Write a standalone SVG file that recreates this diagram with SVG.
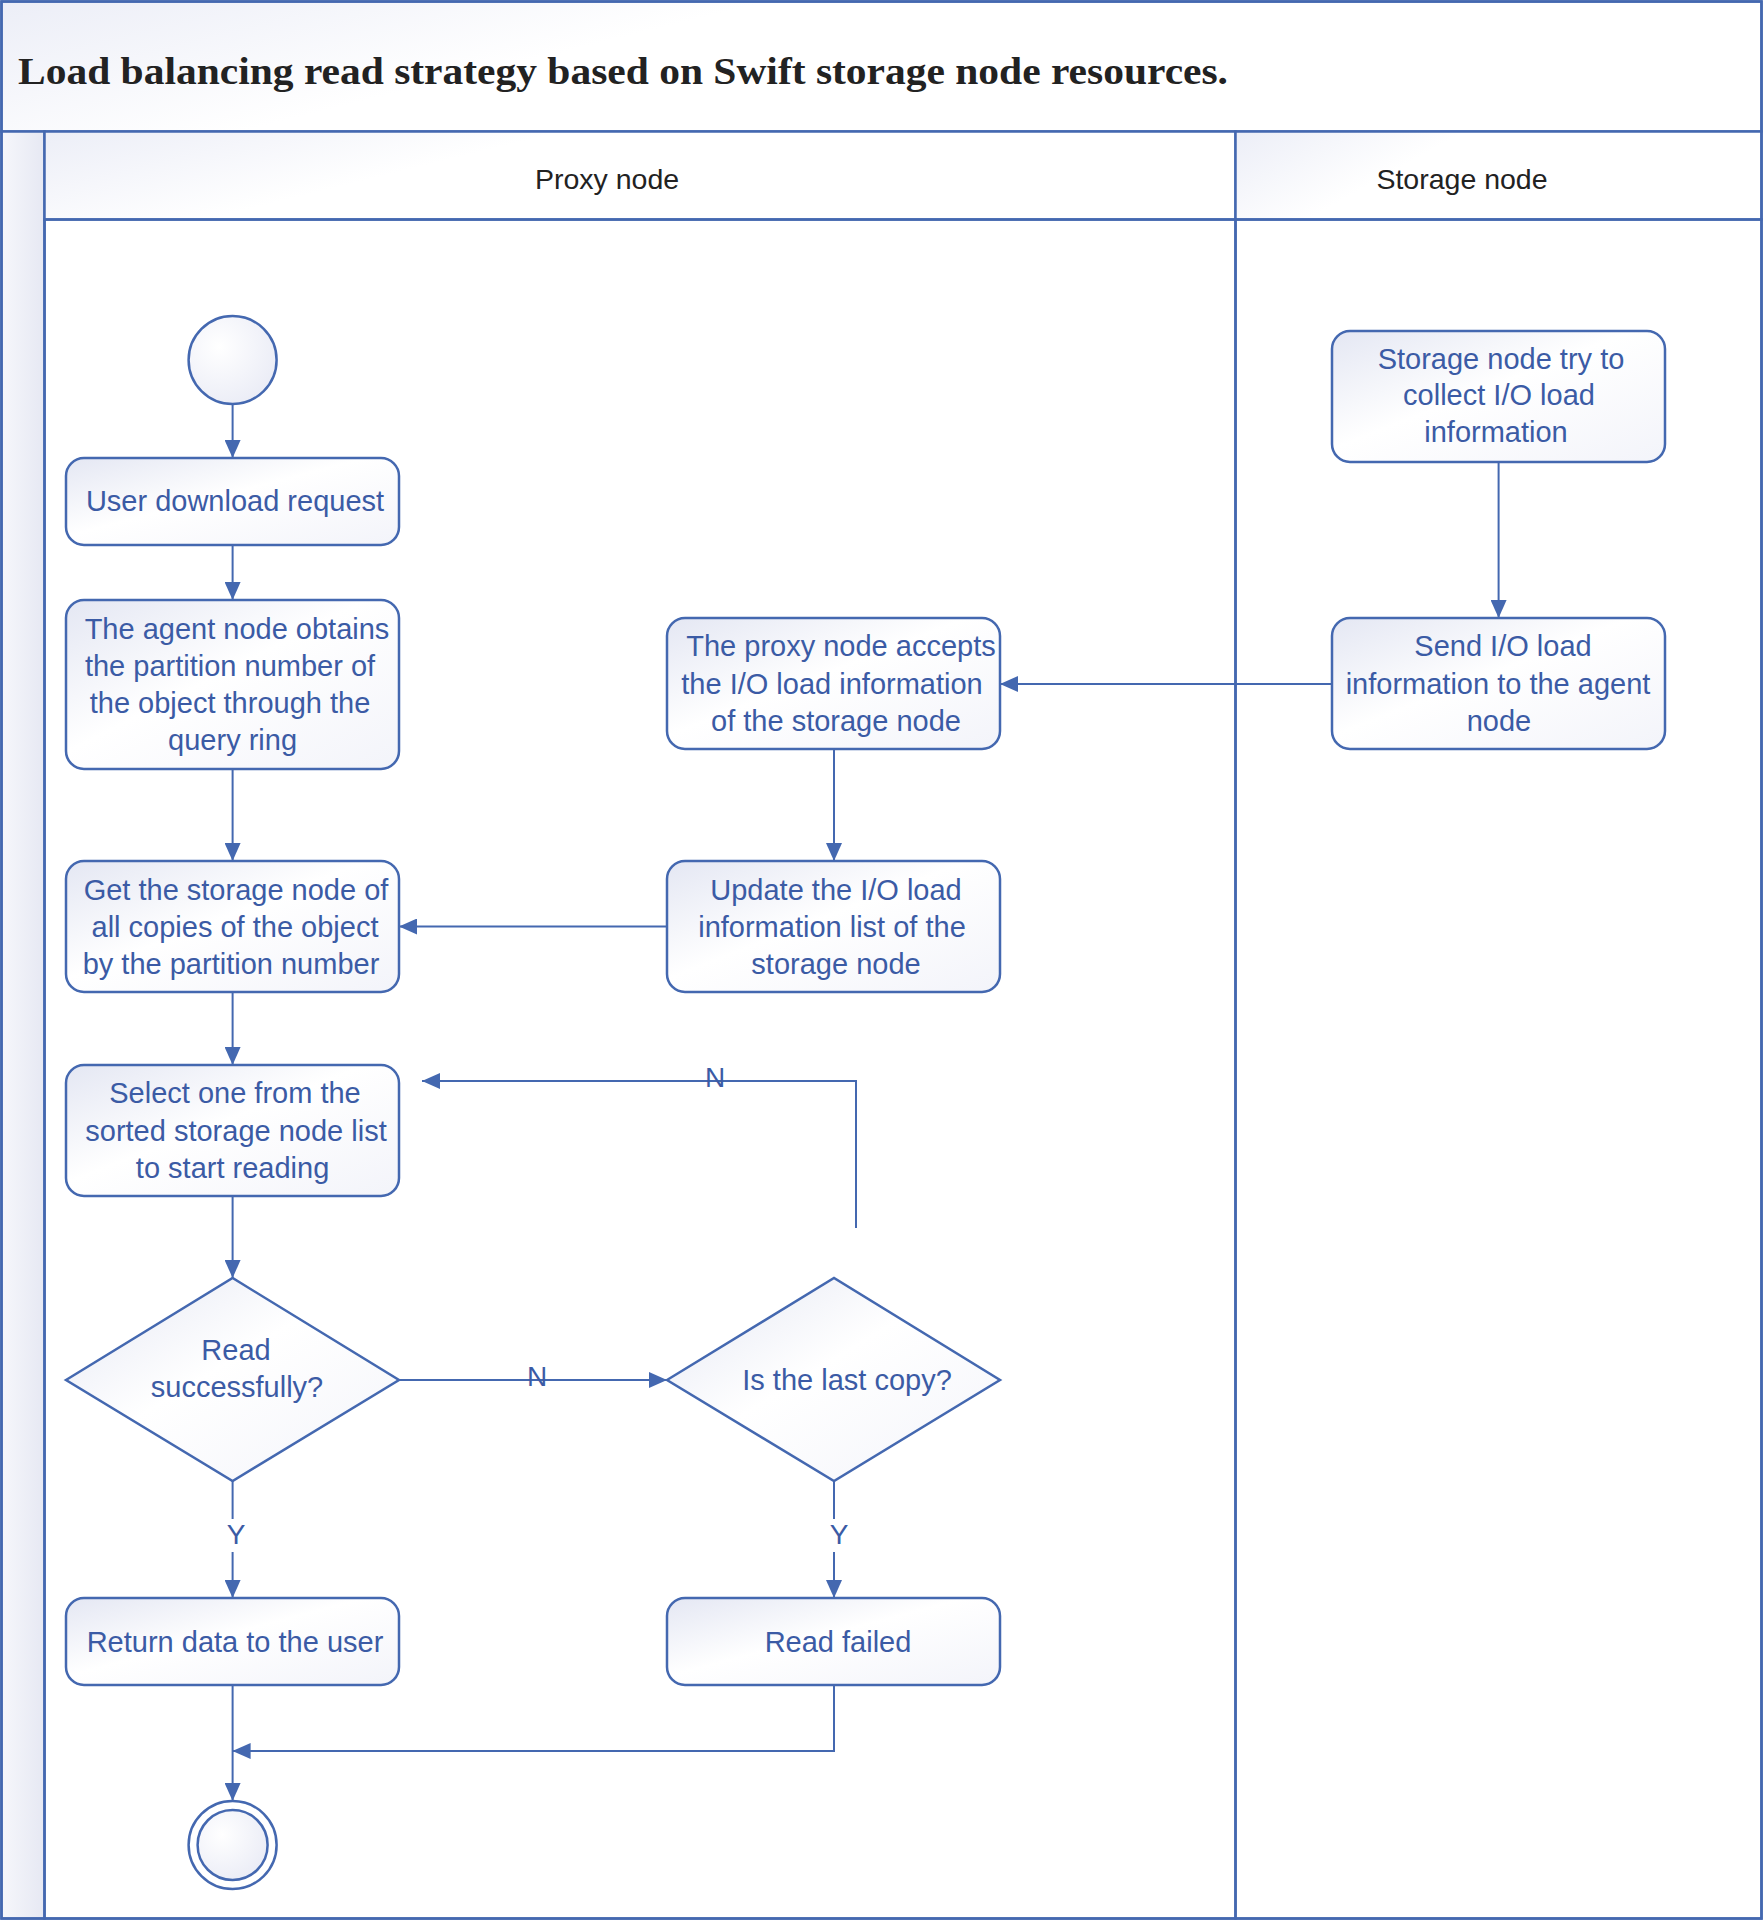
<svg xmlns="http://www.w3.org/2000/svg" width="1763" height="1920" viewBox="0 0 1763 1920">
<defs>
<linearGradient id="ng" x1="0" y1="0" x2="1" y2="1">
<stop offset="0" stop-color="#e4e7f3"/>
<stop offset="0.45" stop-color="#ffffff"/>
<stop offset="1" stop-color="#f3f4fa"/>
</linearGradient>
<linearGradient id="hg" x1="0" y1="0" x2="1" y2="0.3">
<stop offset="0" stop-color="#eceef7"/>
<stop offset="0.4" stop-color="#ffffff"/>
<stop offset="1" stop-color="#ffffff"/>
</linearGradient>
<linearGradient id="sg" x1="0" y1="0" x2="1" y2="0">
<stop offset="0" stop-color="#f6f7fb"/>
<stop offset="1" stop-color="#e6e8f3"/>
</linearGradient>
<radialGradient id="cg" cx="0.35" cy="0.35" r="0.8">
<stop offset="0" stop-color="#ffffff"/>
<stop offset="1" stop-color="#e8eaf5"/>
</radialGradient>
<marker id="arr" viewBox="0 0 18 16" refX="18" refY="8" markerWidth="18" markerHeight="16" orient="auto" markerUnits="userSpaceOnUse">
<path d="M0,0 L18,8 L0,16 z" fill="#4468b0"/>
</marker>
</defs>
<style>
.frame{fill:none;stroke:#4468b0;stroke-width:2.5}
.box{fill:url(#ng);stroke:#4468b0;stroke-width:2.5}
.conn{fill:none;stroke:#4468b0;stroke-width:2}
.t{font-family:"Liberation Sans",Arial,sans-serif;font-size:29px;fill:#3b5ba5;text-anchor:middle}
.lbl{font-family:"Liberation Sans",Arial,sans-serif;font-size:28px;fill:#3b5ba5;text-anchor:middle}
.hd{font-family:"Liberation Sans",Arial,sans-serif;font-size:28.5px;fill:#222222;text-anchor:middle}
.title{font-family:"Liberation Serif","Times New Roman",serif;font-size:38px;font-weight:bold;fill:#222222}
</style>
<rect x="0" y="0" width="1763" height="1920" fill="#ffffff"/>
<g id="pool">
<rect x="1.5" y="1.5" width="1760" height="130" fill="url(#hg)" stroke="#4468b0" stroke-width="2.5"/>
<text class="title" x="18" y="84" textLength="1210" lengthAdjust="spacingAndGlyphs">Load balancing read strategy based on Swift storage node resources.</text>
<rect x="1.5" y="131.5" width="43" height="1787" fill="url(#sg)" stroke="#4468b0" stroke-width="2.5"/>
<rect x="44.5" y="131.5" width="1191" height="88" fill="url(#hg)" stroke="#4468b0" stroke-width="2.5"/>
<rect x="1235.5" y="131.5" width="526" height="88" fill="url(#hg)" stroke="#4468b0" stroke-width="2.5"/>
<text class="hd" x="607" y="189">Proxy node</text>
<text class="hd" x="1462" y="189">Storage node</text>
<rect x="44.5" y="219.5" width="1191" height="1699" class="frame"/>
<rect x="1235.5" y="219.5" width="526" height="1699" class="frame"/>
<rect x="1.5" y="1.5" width="1760" height="1917" class="frame"/>
</g>
<g id="connectors">
<line class="conn" x1="232.6" y1="404" x2="232.6" y2="458" marker-end="url(#arr)"/>
<line class="conn" x1="232.6" y1="545" x2="232.6" y2="600" marker-end="url(#arr)"/>
<line class="conn" x1="232.6" y1="769" x2="232.6" y2="861" marker-end="url(#arr)"/>
<line class="conn" x1="232.6" y1="992" x2="232.6" y2="1065" marker-end="url(#arr)"/>
<line class="conn" x1="232.6" y1="1196" x2="232.6" y2="1278" marker-end="url(#arr)"/>
<line class="conn" x1="232.6" y1="1481" x2="232.6" y2="1519"/>
<line class="conn" x1="232.6" y1="1552" x2="232.6" y2="1598" marker-end="url(#arr)"/>
<text class="lbl" x="236" y="1544">Y</text>
<line class="conn" x1="232.6" y1="1685" x2="232.6" y2="1801" marker-end="url(#arr)"/>
<polyline class="conn" points="834,1685 834,1751 232.6,1751" marker-end="url(#arr)"/>
<line class="conn" x1="399" y1="1380" x2="667" y2="1380" marker-end="url(#arr)"/>
<text class="lbl" x="537" y="1386">N</text>
<line class="conn" x1="834" y1="1481" x2="834" y2="1519"/>
<line class="conn" x1="834" y1="1552" x2="834" y2="1598" marker-end="url(#arr)"/>
<text class="lbl" x="839" y="1544">Y</text>
<polyline class="conn" points="856,1228 856,1081 422,1081" marker-end="url(#arr)"/>
<text class="lbl" x="715" y="1087">N</text>
<line class="conn" x1="1498.6" y1="462" x2="1498.6" y2="618" marker-end="url(#arr)"/>
<line class="conn" x1="1332" y1="684" x2="1000" y2="684" marker-end="url(#arr)"/>
<line class="conn" x1="834" y1="749" x2="834" y2="861" marker-end="url(#arr)"/>
<line class="conn" x1="667" y1="926.5" x2="399" y2="926.5" marker-end="url(#arr)"/>
</g>
<g id="start"><circle cx="232.6" cy="360" r="44" fill="url(#cg)" stroke="#4468b0" stroke-width="2.5"/></g>
<g id="user-request">
<rect class="box" x="66" y="458" width="333" height="87" rx="18"/>
<text class="t" x="235" y="511">User download request</text>
</g>
<g id="agent-partition">
<rect class="box" x="66" y="600" width="333" height="169" rx="18"/>
<text class="t" x="237" y="639">The agent node obtains</text>
<text class="t" x="230" y="676">the partition number of</text>
<text class="t" x="230" y="713">the object through the</text>
<text class="t" x="232.6" y="750">query ring</text>
</g>
<g id="get-storage">
<rect class="box" x="66" y="861" width="333" height="131" rx="18"/>
<text class="t" x="236" y="900">Get the storage node of</text>
<text class="t" x="235" y="937">all copies of the object</text>
<text class="t" x="231" y="974">by the partition number</text>
</g>
<g id="select-one">
<rect class="box" x="66" y="1065" width="333" height="131" rx="18"/>
<text class="t" x="235" y="1103">Select one from the</text>
<text class="t" x="236" y="1141">sorted storage node list</text>
<text class="t" x="232.6" y="1178">to start reading</text>
</g>
<g id="read-success">
<polygon class="box" points="66,1380 232.6,1278 399,1380 232.6,1481"/>
<text class="t" x="236" y="1360">Read</text>
<text class="t" x="237" y="1397">successfully?</text>
</g>
<g id="return-data">
<rect class="box" x="66" y="1598" width="333" height="87" rx="18"/>
<text class="t" x="235" y="1652">Return data to the user</text>
</g>
<g id="end">
<circle cx="232.6" cy="1845" r="44" fill="#ffffff" stroke="#4468b0" stroke-width="2.5"/>
<circle cx="232.6" cy="1845" r="35" fill="url(#cg)" stroke="#4468b0" stroke-width="2.5"/>
</g>
<g id="proxy-accepts">
<rect class="box" x="667" y="618" width="333" height="131" rx="18"/>
<text class="t" x="841" y="656">The proxy node accepts</text>
<text class="t" x="832" y="694">the I/O load information</text>
<text class="t" x="836" y="731">of the storage node</text>
</g>
<g id="update-list">
<rect class="box" x="667" y="861" width="333" height="131" rx="18"/>
<text class="t" x="836" y="900">Update the I/O load</text>
<text class="t" x="832" y="937">information list of the</text>
<text class="t" x="836" y="974">storage node</text>
</g>
<g id="last-copy">
<polygon class="box" points="667,1380 834,1278 1000,1380 834,1481"/>
<text class="t" x="847" y="1390">Is the last copy?</text>
</g>
<g id="read-failed">
<rect class="box" x="667" y="1598" width="333" height="87" rx="18"/>
<text class="t" x="838" y="1652">Read failed</text>
</g>
<g id="storage-collect">
<rect class="box" x="1332" y="331" width="333" height="131" rx="18"/>
<text class="t" x="1501" y="369">Storage node try to</text>
<text class="t" x="1499" y="405">collect I/O load</text>
<text class="t" x="1496" y="442">information</text>
</g>
<g id="send-io">
<rect class="box" x="1332" y="618" width="333" height="131" rx="18"/>
<text class="t" x="1503" y="656">Send I/O load</text>
<text class="t" x="1498" y="694">information to the agent</text>
<text class="t" x="1499" y="731">node</text>
</g>
</svg>
